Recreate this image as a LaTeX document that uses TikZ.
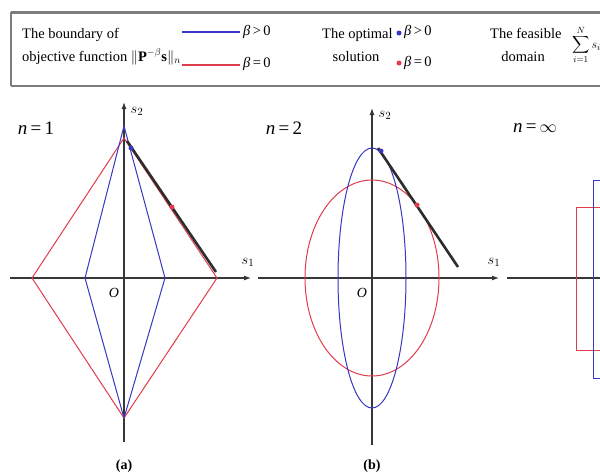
\documentclass[tikz,border=0pt]{standalone}
\usepackage{amsmath}
\usepackage{fontspec}
\setmainfont{Liberation Serif}
\usetikzlibrary{arrows.meta}
\definecolor{bl}{RGB}{55,55,195}
\definecolor{rd}{RGB}{225,60,75}
\definecolor{fr}{RGB}{125,125,125}
\definecolor{ax}{RGB}{55,55,55}
\definecolor{fl}{RGB}{45,45,45}
\newcommand{\myBgt}{{\itshape β}\,>\,0}
\newcommand{\myBeq}{{\itshape β}\,=\,0}
\begin{document}
\begin{tikzpicture}[x=1pt,y=-1pt,
  legtxt/.style={inner sep=0pt,font=\fontsize{14.5}{16}\selectfont},
  ntxt/.style={inner sep=0pt,font=\fontsize{19}{21}\selectfont},
  axlab/.style={inner sep=0pt,font=\fontsize{15}{16}\selectfont},
  captxt/.style={inner sep=0pt,font=\fontsize{14}{15}\selectfont\bfseries},
  axisline/.style={draw=ax,line width=1.1pt,-{Latex[length=7pt,width=5pt]}},
  axisplain/.style={draw=ax,line width=1.1pt},
  blueshape/.style={draw=bl,line width=1pt},
  redshape/.style={draw=rd,line width=1pt},
  feas/.style={draw=fl,line width=2.6pt},
  dotb/.style={circle,fill=bl,inner sep=0pt,minimum size=5pt},
  dotr/.style={circle,fill=rd,inner sep=0pt,minimum size=5pt},
  frame/.style={draw=fr}
]
\useasboundingbox (0,0) rectangle (600,475);
\fill[white] (0,0) rectangle (600,475);
\clip (0,0) rectangle (600,475);

% ---------- legend ----------
\coordinate (fTL) at (11,12);
\coordinate (fTR) at (605,12);
\coordinate (fBL) at (11,86);
\coordinate (fBR) at (605,86);
\draw[frame,line width=3pt] (fTL) -- (fTR);
\draw[frame,line width=2.5pt] (fBL) -- (fBR);
\draw[frame,line width=1.6pt] (fTL) -- (fBL);

\node[legtxt,anchor=base west] (lb1) at (22,38) {The boundary of};
\node[legtxt,anchor=base west] (lb2) at (22,61) {objective function $\|\mathbf{P}^{-\beta}\mathbf{s}\|_n$};
\coordinate (blA) at (182,32);
\coordinate (blB) at (240,32);
\draw[blueshape,line width=1.7pt] (blA) -- (blB);
\node[legtxt,anchor=west] (lbg) at (243,32) {\myBgt};
\coordinate (rlA) at (182,65);
\coordinate (rlB) at (240,65);
\draw[redshape,line width=1.7pt] (rlA) -- (rlB);
\node[legtxt,anchor=west] (lbe) at (243,64) {\myBeq};

\node[legtxt,anchor=base west] (lo1) at (322,38) {The optimal};
\node[legtxt,anchor=base] (lo2) at (356,61) {solution};
\node[dotb] (odb) at (399,33) {};
\node[legtxt,anchor=west] (log) at (404,32) {\myBgt};
\node[dotr] (odr) at (399,63) {};
\node[legtxt,anchor=west] (loe) at (404,63) {\myBeq};

\node[legtxt,anchor=base west] (lf1) at (490,38) {The feasible};
\node[legtxt,anchor=base] (lf2) at (523,61) {domain};
\node[inner sep=0pt,anchor=west,font=\fontsize{13}{14}\selectfont] (lfs) at (572,45) {$\displaystyle\sum_{i=1}^{N} s_i$};

% ---------- panel (a) ----------
\coordinate (aO) at (124,278);
\coordinate (aXL) at (10,278);
\coordinate (aXR) at (251,278);
\coordinate (aYB) at (124,442);
\coordinate (aYT) at (124,102);
\draw[axisline] (aXL) -- (aXR);
\draw[axisline] (aYB) -- (aYT);
\node[axlab] (as1) at (248,262) {$s_1$};
\node[axlab] (as2) at (137,111) {$s_2$};
\coordinate (arL) at (32,278);
\coordinate (arT) at (124,138);
\coordinate (arR) at (217,278);
\coordinate (arB) at (124,418);
\draw[redshape] (arL) -- (arT) -- (arR) -- (arB) -- cycle;
\coordinate (abL) at (85,278);
\coordinate (abT) at (124,126);
\coordinate (abR) at (165,278);
\coordinate (abB) at (124,418);
\draw[blueshape] (abL) -- (abT) -- (abR) -- (abB) -- cycle;
\coordinate (afA) at (127,141);
\coordinate (afB) at (216,272);
\draw[feas] (afA) -- (afB);
\node[dotb] (adb) at (131,148) {};
\node[dotr] (adr) at (172,207) {};
\node[ntxt] (an) at (36,128) {{\itshape n}\,=\,1};
\node[axlab,font=\fontsize{14}{15}\selectfont\itshape] (aOl) at (114,293) {O};
\node[captxt] (acap) at (124,466) {(a)};

% ---------- panel (b) ----------
\coordinate (bO) at (372,278);
\coordinate (bXL) at (258,278);
\coordinate (bXR) at (499,278);
\coordinate (bYB) at (372,445);
\coordinate (bYT) at (372,108);
\draw[axisline] (bXL) -- (bXR);
\draw[axisline] (bYB) -- (bYT);
\node[axlab] (bs1) at (494,262) {$s_1$};
\node[axlab] (bs2) at (385,115) {$s_2$};
\draw[redshape] (bO) ellipse [x radius=67pt, y radius=98pt];
\draw[blueshape] (bO) ellipse [x radius=34pt, y radius=130pt];
\coordinate (bfA) at (378,148);
\coordinate (bfB) at (458,267);
\draw[feas] (bfA) -- (bfB);
\node[dotb] (bdb) at (381,151) {};
\node[dotr] (bdr) at (417,205) {};
\node[ntxt] (bn) at (284,128) {{\itshape n}\,=\,2};
\node[axlab,font=\fontsize{14}{15}\selectfont\itshape] (bOl) at (362,293) {O};
\node[captxt] (bcap) at (372,466) {(b)};

% ---------- panel (c) ----------
\coordinate (cXL) at (507,278);
\coordinate (cXR) at (640,278);
\draw[axisplain] (cXL) -- (cXR);
\coordinate (crA) at (576,207);
\coordinate (crB) at (668,350);
\draw[redshape] (crA) rectangle (crB);
\coordinate (cbA) at (593,180);
\coordinate (cbB) at (647,378);
\draw[blueshape] (cbA) rectangle (cbB);
\node[ntxt] (cn) at (535,128) {{\itshape n}\,=\,$\infty$};
\end{tikzpicture}
\end{document}
